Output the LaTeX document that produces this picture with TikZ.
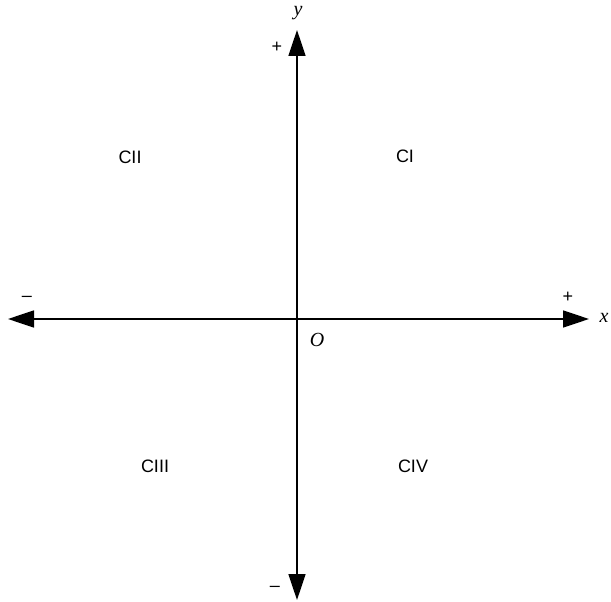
\documentclass[tikz,border=0pt]{standalone}
\usepackage{fontspec}
\setmainfont{Liberation Sans}
\newfontfamily\timesf{Liberation Serif}
\usetikzlibrary{arrows.meta}
\begin{document}
\begin{tikzpicture}[x=1pt,y=-1pt,
  axis/.style={line width=1.7pt,{Triangle[length=26pt,width=17pt]}-{Triangle[length=26pt,width=17pt]}},
  quad/.style={font=\fontsize{18}{20}\selectfont},
  varlab/.style={font=\timesf\itshape\fontsize{20}{22}\selectfont},
  sign/.style={font=\fontsize{18}{20}\selectfont}]
\useasboundingbox (0,0) rectangle (611,602);
\coordinate (L) at (8,319);
\coordinate (R) at (589,319);
\coordinate (T) at (297,30);
\coordinate (B) at (297,600);
\draw[axis] (L) -- (R);
\draw[axis] (B) -- (T);
\node[varlab] (ylab) at (298,13) {y};
\node[varlab] (xlab) at (604,318) {x};
\node[varlab] (olab) at (317,340) {O};
\node[sign] (tplus) at (277,47) {+};
\node[sign] (rplus) at (568,297) {+};
\node[sign] (lminus) at (27,299) {–};
\node[sign] (bminus) at (275,589) {–};
\node[quad] (c1) at (405,156) {CI};
\node[quad] (c2) at (130,157) {CII};
\node[quad] (c3) at (155,466) {CIII};
\node[quad] (c4) at (413,466) {CIV};
\end{tikzpicture}
\end{document}
